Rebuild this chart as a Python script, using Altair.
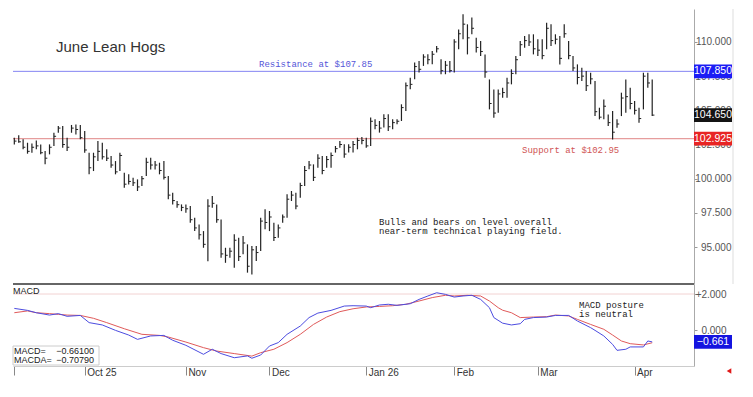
import json
import altair as alt
import pandas as pd

# ---------------- data ----------------
highs = [103.00, 103.17, 102.88, 102.63, 102.58, 102.80, 102.51, 102.02, 102.51, 103.36,
         103.85, 103.85, 103.00, 103.93, 103.97, 103.93, 103.49, 101.90, 101.90, 102.75,
         102.63, 102.15, 101.66, 101.29, 101.90, 100.44, 100.32, 100.07, 99.95, 100.19,
         101.54, 101.54, 101.29, 101.17, 101.29, 100.19, 98.97, 98.37, 98.12, 98.12,
         98.00, 97.15, 96.66, 96.17, 98.49, 98.73, 98.12, 97.02, 94.95, 94.95,
         95.93, 95.69, 95.81, 95.20, 95.08, 95.08, 97.15, 97.76, 97.64, 96.78,
         96.66, 97.39, 98.86, 99.10, 98.98, 99.71, 100.93, 101.30, 101.05, 101.78,
         101.66, 101.66, 101.91, 102.39, 102.76, 102.52, 102.52, 102.76, 103.00, 103.05,
         103.00, 104.47, 104.34, 104.22, 104.71, 104.71, 104.34, 104.34, 105.44, 107.03,
         107.39, 108.49, 108.61, 109.10, 109.10, 109.34, 109.71, 108.73, 108.61, 108.61,
         110.20, 110.92, 112.02, 111.29, 111.78, 110.31, 110.07, 109.09, 107.26, 106.53,
         106.53, 106.65, 107.39, 108.00, 108.97, 110.07, 110.44, 110.56, 110.56, 110.19,
         110.19, 111.41, 111.29, 110.56, 110.44, 111.29, 110.07, 108.97, 108.36, 108.12,
         107.87, 107.75, 107.14, 105.19, 105.80, 104.70, 104.95, 104.34, 106.29, 107.26,
         106.65, 105.68, 105.19, 107.75, 107.75, 107.26]
lows = [102.51, 102.63, 102.15, 101.83, 101.90, 102.15, 101.78, 101.05, 101.78, 102.39,
        103.36, 102.27, 102.02, 103.36, 103.24, 102.88, 101.90, 100.32, 100.56, 101.29,
        101.41, 101.29, 100.80, 100.32, 100.56, 99.34, 99.58, 99.46, 99.10, 99.46,
        100.19, 100.68, 100.68, 100.32, 99.95, 98.49, 98.12, 97.88, 97.63, 97.51,
        96.78, 96.17, 95.56, 94.95, 93.97, 97.88, 96.78, 94.22, 93.85, 94.22,
        93.49, 93.98, 94.47, 93.13, 93.00, 93.98, 94.71, 96.30, 96.17, 95.44,
        95.69, 96.78, 97.15, 98.37, 97.76, 98.61, 99.47, 100.69, 99.83, 100.81,
        100.32, 100.81, 100.81, 101.91, 102.27, 101.54, 101.91, 101.91, 102.15, 102.52,
        102.27, 102.39, 103.61, 103.37, 103.74, 103.49, 103.61, 103.98, 104.22, 104.95,
        106.54, 107.27, 107.76, 108.25, 108.37, 108.37, 109.22, 107.64, 107.64, 107.76,
        107.76, 109.46, 110.19, 109.09, 110.56, 109.22, 108.97, 107.39, 105.07, 104.46,
        104.83, 105.92, 105.92, 106.90, 107.63, 108.97, 109.58, 109.70, 109.09, 108.97,
        108.73, 109.46, 109.70, 109.83, 108.36, 110.31, 108.73, 107.87, 106.90, 107.14,
        106.41, 106.90, 104.58, 104.34, 104.34, 103.85, 102.87, 103.73, 104.58, 104.83,
        105.07, 104.70, 104.09, 105.07, 106.65, 104.58]
closes = [102.75, 102.70, 102.30, 102.00, 102.30, 102.40, 101.90, 101.50, 102.30, 103.10,
          103.70, 102.50, 102.30, 103.70, 103.60, 103.00, 102.10, 100.80, 101.60, 102.00,
          101.60, 101.50, 101.00, 100.50, 101.70, 99.60, 99.80, 99.70, 99.40, 100.00,
          101.20, 101.00, 101.00, 100.60, 100.10, 98.80, 98.40, 98.10, 97.90, 97.80,
          97.00, 96.40, 95.90, 95.20, 98.00, 98.20, 97.00, 94.50, 94.40, 94.70,
          95.50, 94.30, 95.30, 93.60, 94.80, 94.60, 96.90, 96.80, 97.20, 95.70,
          96.40, 97.20, 98.50, 98.80, 98.00, 99.50, 100.60, 101.00, 100.10, 101.50,
          100.60, 101.40, 101.70, 102.20, 102.50, 101.80, 102.30, 102.50, 102.80, 102.80,
          102.40, 104.20, 103.90, 103.70, 104.40, 103.80, 104.10, 104.20, 105.20, 106.80,
          106.90, 108.20, 108.00, 108.90, 108.70, 109.10, 109.50, 107.90, 108.30, 107.90,
          110.00, 110.60, 111.30, 110.30, 111.00, 109.60, 109.30, 107.80, 105.50, 104.80,
          106.20, 106.30, 107.00, 107.70, 108.70, 109.80, 110.10, 110.00, 109.50, 109.40,
          109.00, 111.00, 110.10, 110.20, 108.80, 110.60, 109.00, 108.10, 107.40, 107.50,
          106.80, 107.30, 104.90, 104.50, 105.30, 104.10, 103.40, 104.00, 105.90, 106.00,
          105.50, 105.00, 104.40, 107.50, 107.00, 104.65]

macd_idx = [0, 3, 5, 8, 10, 12, 15, 17, 20, 23, 26, 28, 31, 34, 36, 39, 43, 45, 47, 50,
            53, 54, 56, 58, 60, 62, 65, 67, 69, 72, 75, 77, 80, 81, 83, 85, 87, 90, 92, 94,
            96, 98, 100, 102, 104, 106, 108, 109, 111, 113, 115, 116, 118, 121, 123, 126, 128, 131, 132, 134,
            136, 137, 139, 140, 143, 144, 145]
macd_vals = [1.20, 1.09, 0.96, 0.83, 0.91, 0.76, 0.81, 0.41, 0.28, -0.02, -0.28, -0.52, -0.33, -0.30, -0.57, -0.85, -1.35, -1.07, -1.31, -1.54,
             -1.44, -1.57, -1.39, -0.89, -0.70, -0.24, 0.22, 0.69, 0.94, 1.09, 1.33, 1.35, 1.33, 1.24, 1.39, 1.43, 1.37, 1.46, 1.70, 1.89,
             2.07, 1.98, 1.83, 1.89, 1.93, 1.70, 1.24, 0.69, 0.38, 0.28, 0.35, 0.59, 0.69, 0.72, 0.81, 0.81, 0.50, 0.13, -0.02, -0.33,
             -0.80, -1.13, -1.07, -0.94, -0.94, -0.61, -0.661]
sig_idx = [0, 3, 5, 8, 10, 12, 15, 18, 21, 25, 29, 33, 35, 39, 43, 46, 50, 54, 56, 59,
           62, 65, 68, 71, 74, 77, 80, 83, 86, 89, 92, 95, 98, 100, 103, 106, 108, 110, 111, 113,
           115, 118, 121, 123, 126, 128, 131, 134, 136, 138, 140, 143, 145]
sig_vals = [0.96, 1.06, 0.96, 0.91, 0.87, 0.83, 0.81, 0.65, 0.41, 0.07, -0.24, -0.30, -0.39, -0.67, -0.98, -1.17, -1.31, -1.45, -1.26, -1.07,
            -0.70, -0.24, 0.31, 0.72, 1.02, 1.18, 1.28, 1.31, 1.35, 1.43, 1.61, 1.80, 1.93, 1.89, 1.93, 1.89, 1.61, 1.24, 1.10, 0.96,
            0.69, 0.72, 0.74, 0.83, 0.78, 0.59, 0.31, 0.04, -0.28, -0.61, -0.76, -0.83, -0.708]

month_idx = [0, 16, 39, 58, 80, 100, 119, 141]
month_labels = ["", "Oct 25", "Nov", "Dec", "Jan 26", "Feb", "Mar", "Apr"]
price_ticks = [95, 97.5, 100, 102.5, 105, 107.5, 110]
macd_ticks = [0, 2]

resistance = 107.85
support = 102.925
last_close = 104.65
macd_last = -0.661
macda_last = -0.7079

title_text = "June Lean Hogs"
res_text = "Resistance at $107.85"
sup_text = "Support at $102.95"
note_text = "Bulls and bears on level overall\nnear-term technical playing field."
macd_note = "MACD posture\nis neutral"

# ---------------- layout ----------------
W, H1, H2 = 681, 275, 82
xs = alt.Scale(domain=[-0.3, 154.5], nice=False, zero=False)
ys = alt.Scale(domain=[92.3, 112.41], nice=False, zero=False)
ms = alt.Scale(domain=[-2.0, 2.556], nice=False, zero=False)
SANS = "Liberation Sans"
MONO = "Liberation Mono"
BOX = "M-1,-0.36L1,-0.36L1,0.36L-1,0.36Z"

bars = pd.DataFrame({"i": list(range(len(highs))), "high": highs, "low": lows, "close": closes})
one = pd.DataFrame({"a": [0]})

price_axis = alt.Axis(orient="right", values=price_ticks, format=".3f", title=None, grid=False,
                      labelFont=SANS, labelFontSize=10, labelColor="#555", labelAlign="right",
                      labelPadding=34, tickSize=3, tickColor="#999", domainColor="#aaa")


def PY(f):
    return alt.Y(f, scale=ys, axis=price_axis)


hl = alt.Chart(bars).mark_rule(color="#222", strokeWidth=1.2).encode(
    x=alt.X("i:Q", scale=xs, axis=None), y=PY("low:Q"), y2="high:Q")
cl = alt.Chart(bars).transform_calculate(xr="datum.i + 0.5").mark_rule(color="#222", strokeWidth=1).encode(
    x=alt.X("i:Q", scale=xs, axis=None), x2="xr:Q", y=PY("close:Q"))

res_line = alt.Chart(pd.DataFrame({"v": [resistance]})).mark_rule(color="#8585f2", strokeWidth=1).encode(y=PY("v:Q"))
sup_line = alt.Chart(pd.DataFrame({"v": [support]})).mark_rule(color="#e08585", strokeWidth=1).encode(y=PY("v:Q"))

levels = pd.DataFrame({"v": [resistance, last_close, support], "k": ["res", "last", "sup"]})
lev_color = alt.Color("k:N", scale=alt.Scale(domain=["res", "last", "sup"],
                                             range=["#1c1cf5", "#141414", "#e82424"]), legend=None)
lev_box = alt.Chart(levels).mark_point(shape=BOX, size=1444, filled=True, opacity=1, strokeWidth=0).encode(
    x=alt.value(700), y=PY("v:Q"), color=lev_color)
lev_txt = alt.Chart(levels).mark_text(color="white", font=SANS, fontSize=10.5, align="center", baseline="middle").encode(
    x=alt.value(700), y=PY("v:Q"), text=alt.Text("v:Q", format=".3f"))

edge = alt.Chart(one).mark_rule(color="#dddddd").encode(x=alt.value(720), y=alt.value(0), y2=alt.value(H1))

t_title = alt.Chart(one).mark_text(text=title_text, font=SANS, fontSize=15, color="#333", align="left",
                                   baseline="middle").encode(x=alt.value(43), y=alt.value(38))
t_res = alt.Chart(one).mark_text(text=res_text, font=MONO, fontSize=9, color="#5555d8", align="left",
                                 baseline="middle").encode(x=alt.value(246), y=alt.value(55))
t_sup = alt.Chart(one).mark_text(text=sup_text, font=MONO, fontSize=9, color="#d05555", align="left",
                                 baseline="middle").encode(x=alt.value(509), y=alt.value(141))
t_note = alt.Chart(one).mark_text(text=note_text, lineBreak="\n", lineHeight=9, font=MONO, fontSize=9,
                                  color="#222", align="left", baseline="top").encode(x=alt.value(366), y=alt.value(209))

main = alt.layer(res_line, sup_line, hl, cl, edge, lev_box, lev_txt, t_title, t_res, t_sup, t_note).properties(
    width=W, height=H1)

# ---------------- MACD panel ----------------
mdf = pd.DataFrame({"i": macd_idx, "v": macd_vals})
sdf = pd.DataFrame({"i": sig_idx, "v": sig_vals})

x_axis = alt.Axis(values=month_idx, title=None, grid=False,
                  labelExpr="%s[indexof(%s, datum.value)]" % (json.dumps(month_labels), json.dumps(month_idx)),
                  labelFont=SANS, labelFontSize=10, labelColor="#333", labelAlign="left", labelBaseline="top",
                  labelOffset=2, labelPadding=-8, tickSize=9, tickColor="#888", domainColor="#cccccc")
m_axis = alt.Axis(orient="right", values=macd_ticks, title=None, grid=False,
                  labelExpr="datum.value > 0 ? '+' + format(datum.value, '.3f') : format(datum.value, '.3f')",
                  labelFont=SANS, labelFontSize=10, labelColor="#555", labelAlign="right",
                  labelPadding=29, tickSize=3, tickColor="#999", domainColor="#aaa")


def MY(f):
    return alt.Y(f, scale=ms, axis=m_axis)


def MX(f):
    return alt.X(f, scale=xs, axis=x_axis)


two_line = alt.Chart(pd.DataFrame({"v": [macd_ticks[1]]})).mark_rule(color="#f2d2d2").encode(y=MY("v:Q"))
sig_line = alt.Chart(sdf).mark_line(color="#e05a5a", strokeWidth=1).encode(x=MX("i:Q"), y=MY("v:Q"))
macd_line = alt.Chart(mdf).mark_line(color="#4c4ce0", strokeWidth=1).encode(x=MX("i:Q"), y=MY("v:Q"))
top_rule = alt.Chart(one).mark_rule(color="#333", strokeWidth=1.5).encode(
    x=alt.value(0), x2=alt.value(W), y=alt.value(0))

m_box = alt.Chart(pd.DataFrame({"v": [macd_last]})).mark_point(shape=BOX, size=1444, filled=True, opacity=1,
                                                                 strokeWidth=0, color="#1414e0").encode(
    x=alt.value(700), y=MY("v:Q"))
m_txt = alt.Chart(pd.DataFrame({"v": [macd_last]})).mark_text(color="white", font=SANS, fontSize=10.5,
                                                                align="center", baseline="middle").encode(
    x=alt.value(700), y=MY("v:Q"), text=alt.Text("v:Q", format=".3f"))

t_macd = alt.Chart(one).mark_text(text="MACD", font=SANS, fontSize=9, color="#222", align="left",
                                  baseline="top").encode(x=alt.value(0), y=alt.value(3))
t_mnote = alt.Chart(one).mark_text(text=macd_note, lineBreak="\n", lineHeight=9, font=MONO, fontSize=9,
                                   color="#222", align="left", baseline="top").encode(x=alt.value(566), y=alt.value(17))

leg_box = alt.Chart(one).mark_rect(fill="white", stroke="#cccccc", strokeWidth=1).encode(
    x=alt.value(0), x2=alt.value(86), y=alt.value(62), y2=alt.value(81))
leg1_lab = alt.Chart(one).mark_text(text="MACD=", font=SANS, fontSize=9, color="#222", align="left",
                                    baseline="middle").encode(x=alt.value(1), y=alt.value(67))
leg2_lab = alt.Chart(one).mark_text(text="MACDA=", font=SANS, fontSize=9, color="#222", align="left",
                                    baseline="middle").encode(x=alt.value(1), y=alt.value(76))
leg1_val = alt.Chart(pd.DataFrame({"v": [macd_last]})).mark_text(font=SANS, fontSize=9, color="#222", align="right",
                                                                   baseline="middle").encode(
    x=alt.value(81), y=alt.value(67), text=alt.Text("v:Q", format=".5f"))
leg2_val = alt.Chart(pd.DataFrame({"v": [macda_last]})).mark_text(font=SANS, fontSize=9, color="#222", align="right",
                                                                    baseline="middle").encode(
    x=alt.value(81), y=alt.value(76), text=alt.Text("v:Q", format=".5f"))

arrow = alt.Chart(one).mark_point(shape="triangle-left", size=28, filled=True, color="#e01818", opacity=1).encode(
    x=alt.value(716), y=alt.value(87))

macd = alt.layer(two_line, sig_line, macd_line, top_rule, m_box, m_txt, t_macd, t_mnote,
                 leg_box, leg1_lab, leg2_lab, leg1_val, leg2_val, arrow).properties(width=W, height=H2)

chart = alt.vconcat(main, macd, spacing=0, bounds="flush").resolve_scale(
    x="independent", y="independent").properties(
    padding={"left": 4, "top": 0, "right": 2, "bottom": 2}, background="white"
).configure_view(strokeWidth=0)

chart.save("out.html", embed_options={"renderer": "svg", "actions": False})
